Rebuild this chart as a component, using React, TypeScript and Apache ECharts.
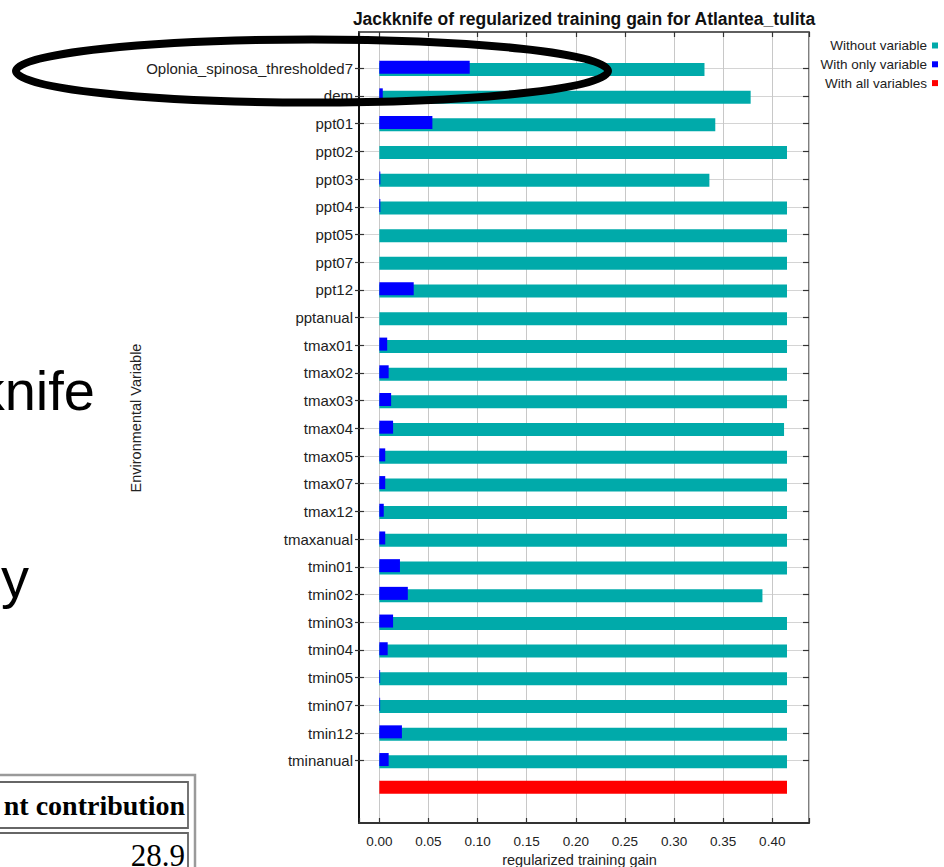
import React, { useEffect, useRef } from "react";
import * as echarts from "echarts";

const chartTitle = "Jackknife of regularized training gain for Atlantea_tulita";
const variables = [
  "Oplonia_spinosa_thresholded7", "dem", "ppt01", "ppt02", "ppt03", "ppt04", "ppt05", "ppt07", "ppt12", "pptanual",
  "tmax01", "tmax02", "tmax03", "tmax04", "tmax05", "tmax07", "tmax12", "tmaxanual",
  "tmin01", "tmin02", "tmin03", "tmin04", "tmin05", "tmin07", "tmin12", "tminanual",
];
const withoutVariable = [
  0.331, 0.378, 0.342, 0.415, 0.336, 0.415, 0.415, 0.415, 0.415, 0.415,
  0.415, 0.415, 0.415, 0.412, 0.415, 0.415, 0.415, 0.415,
  0.415, 0.390, 0.415, 0.415, 0.415, 0.415, 0.415, 0.415,
];
const withOnlyVariable = [
  0.092, 0.0035, 0.054, 0, 0.001, 0.001, 0, 0, 0.035, 0,
  0.008, 0.0095, 0.012, 0.014, 0.006, 0.006, 0.0045, 0.006,
  0.021, 0.029, 0.014, 0.0085, 0.0008, 0.0008, 0.023, 0.0095,
];
const withAllVariables = [0.415];
const legendNames = ["Without variable", "With only variable", "With all variables"];
const xAxisName = "regularized training gain";
const yAxisName = "Environmental Variable";
const tickStep = 0.05;
const xMin = -0.0207;
const xMax = 0.4374;
const slideWordTop = "knife";
const slideWordBottom = "y";
const tableHeader = "nt contribution";
const tableValue = "28.9";

const SANS = "Arial, 'Liberation Sans', sans-serif";
const SERIF = "'Times New Roman', 'Liberation Serif', serif";

export default function App() {
  const ref = useRef<HTMLDivElement>(null);
  useEffect(() => {
    const chart = echarts.init(ref.current!, null, { renderer: "svg" });
    const cats = [...variables, ""];
    const lastIdx = cats.length - 1;
    const keep = (i: number) => i !== lastIdx;
    const pad = (arr: number[]) => [...arr, null];
    const redData = [...variables.map(() => null), ...withAllVariables];
    const fmt = (v: number) => {
      const r = v / tickStep;
      return Math.abs(r - Math.round(r)) < 1e-6 ? v.toFixed(2) : "";
    };
    const catAxisBase = {
      gridIndex: 1,
      type: "category",
      data: cats,
      inverse: true,
      boundaryGap: false,
      axisLine: { show: false, onZero: false },
      axisLabel: { show: false },
      splitLine: { show: false },
    };
    const option: any = {
      animation: false,
      backgroundColor: "#ffffff",
      title: {
        text: chartTitle,
        left: 584,
        top: 10,
        padding: 0,
        textAlign: "center",
        textStyle: { fontSize: 17.5, fontWeight: "bold", fontFamily: SANS, color: "#111" },
      },
      legend: {
        orient: "vertical",
        right: 6,
        top: 38.5,
        padding: 0,
        align: "right",
        icon: "rect",
        itemWidth: 6,
        itemHeight: 6,
        itemGap: 4.8,
        selectedMode: false,
        data: legendNames,
        textStyle: { fontSize: 13.5, color: "#222", fontFamily: SANS },
      },
      grid: [
        {
          left: 359, top: 32, width: 450, height: 791, show: true, borderColor: "#555", borderWidth: 1.5,
          backgroundColor: "transparent", containLabel: false, outerBoundsMode: "none",
        },
        { left: 359, top: 68.3, width: 450, height: 720.1, containLabel: false, outerBoundsMode: "none" },
      ],
      xAxis: [
        {
          gridIndex: 0, type: "value", position: "bottom", min: xMin, max: xMax,
          splitNumber: 9, minInterval: tickStep, maxInterval: tickStep,
          axisLine: { show: true, onZero: false, lineStyle: { color: "#333", width: 2 } },
          axisTick: { show: true, inside: true, length: 5, lineStyle: { color: "#333", width: 1.2 } },
          axisLabel: { formatter: fmt, fontSize: 13.5, color: "#222", fontFamily: SANS, margin: 11 },
          splitLine: { show: true, lineStyle: { color: "#c8c8c8", width: 1 } },
          name: xAxisName, nameLocation: "middle", nameGap: 29.5,
          nameTextStyle: { fontSize: 14.5, color: "#222", fontFamily: SANS, padding: [0, 9, 0, 0] },
        },
        {
          gridIndex: 0, type: "value", position: "top", min: xMin, max: xMax,
          splitNumber: 9, minInterval: tickStep, maxInterval: tickStep,
          axisLine: { show: true, onZero: false, lineStyle: { color: "#555", width: 1.5 } },
          axisTick: { show: true, inside: true, length: 5, lineStyle: { color: "#333", width: 1.2 } },
          axisLabel: { show: false },
          splitLine: { show: false },
        },
        { gridIndex: 1, type: "value", min: xMin, max: xMax, show: false, axisLine: { onZero: false }, splitLine: { show: false } },
      ],
      yAxis: [
        {
          gridIndex: 0, type: "value", position: "left", min: 0, max: 1,
          axisLine: { show: true, onZero: false, lineStyle: { color: "#111", width: 2 } },
          axisTick: { show: false }, axisLabel: { show: false }, splitLine: { show: false },
        },
        {
          ...catAxisBase,
          position: "left",
          axisTick: { show: true, inside: false, length: 4, interval: keep, lineStyle: { color: "#333", width: 1.2 } },
          axisLabel: { show: true, interval: 0, fontSize: 15, color: "#222", fontFamily: SANS, margin: 6 },
          splitLine: { show: true, interval: keep, lineStyle: { color: "#d4d4d4", width: 1 } },
        },
        {
          ...catAxisBase,
          position: "left",
          axisTick: { show: true, inside: true, length: 5, interval: keep, lineStyle: { color: "#333", width: 1.2 } },
        },
        {
          ...catAxisBase,
          position: "right",
          axisTick: { show: true, inside: true, length: 6, interval: keep, lineStyle: { color: "#333", width: 1.2 } },
        },
      ],
      series: [
        {
          name: legendNames[1], type: "bar", xAxisIndex: 2, yAxisIndex: 1, stack: "only",
          data: pad(withOnlyVariable), barWidth: 13, barGap: "-82%", z: 3,
          itemStyle: { color: "#0000ff" },
        },
        {
          name: legendNames[0], type: "bar", xAxisIndex: 2, yAxisIndex: 1,
          data: pad(withoutVariable), barWidth: 13, barGap: "-82%", z: 2,
          itemStyle: { color: "#00aaaa" },
        },
        {
          name: legendNames[2], type: "bar", xAxisIndex: 2, yAxisIndex: 1, stack: "only",
          data: redData, barWidth: 13, barGap: "-82%", z: 3,
          itemStyle: { color: "#ff0000" },
        },
      ],
      graphic: {
        elements: [
          {
            type: "text", x: 136, y: 418, rotation: Math.PI / 2,
            style: { text: yAxisName, fontSize: 14.5, fontFamily: SANS, fill: "#222", align: "center", verticalAlign: "middle" },
          },
          {
            type: "text", x: 95, y: 390,
            style: { text: slideWordTop, fontSize: 56, fontFamily: SANS, fill: "#000", align: "right", verticalAlign: "middle" },
          },
          {
            type: "text", x: 29, y: 577,
            style: { text: slideWordBottom, fontSize: 56, fontFamily: SANS, fill: "#000", align: "right", verticalAlign: "middle" },
          },
          {
            type: "rect", shape: { x: -10, y: 775, width: 205, height: 110 },
            style: { fill: "none", stroke: "#9a9a9a", lineWidth: 2.5 },
          },
          {
            type: "rect", shape: { x: -10, y: 782, width: 198, height: 46 },
            style: { fill: "none", stroke: "#666", lineWidth: 1.8 },
          },
          {
            type: "rect", shape: { x: -10, y: 833, width: 198, height: 60 },
            style: { fill: "none", stroke: "#666", lineWidth: 1.8 },
          },
          {
            type: "text", x: 185, y: 805,
            style: { text: tableHeader, fontSize: 28, fontWeight: "bold", fontFamily: SERIF, fill: "#000", align: "right", verticalAlign: "middle" },
          },
          {
            type: "text", x: 185, y: 855,
            style: { text: tableValue, fontSize: 31, fontFamily: SERIF, fill: "#000", align: "right", verticalAlign: "middle" },
          },
          {
            type: "ellipse", z: 100,
            shape: { cx: 312, cy: 71, rx: 296, ry: 31.5 },
            style: { fill: "none", stroke: "#000", lineWidth: 8 },
          },
        ],
      },
    };
    chart.setOption(option);
    return () => chart.dispose();
  }, []);
  return (
    <div
      ref={ref}
      style={{ position: "fixed", left: 0, top: 0, width: 944, height: 867, background: "#fff" }}
    />
  );
}
